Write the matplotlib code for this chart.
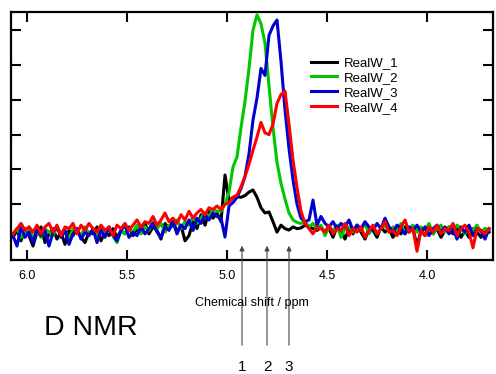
import numpy as np
import matplotlib
matplotlib.use("Agg")
import matplotlib.pyplot as plt

plt.rcParams['font.family'] = ['Liberation Sans', 'DejaVu Sans']

# chemical shift grid (ppm), 0.02 ppm steps from 6.07 down to 3.69
ppm = np.round(6.07 - 0.02 * np.arange(120), 2)

realw_1 = [0.05, 0.25, -0.05, 0.30, 0.10, -0.20, 0.20, 0.35, -0.10, 0.15,
           0.30, 0.00, 0.20, -0.15, 0.25, 0.10, 0.30, 0.05, -0.10, 0.20,
           0.15, 0.35, -0.05, 0.20, 0.10, 0.30, 0.05, 0.25, 0.15, 0.35,
           0.10, 0.30, 0.20, 0.45, 0.15, 0.35, 0.25, 0.00, 0.45, 0.30,
           0.55, 0.20, 0.40, -0.05, 0.10, 0.50, 0.30, 0.70, 0.40, 0.80,
           0.60, 0.75, 0.50, 1.84, 1.10, 1.20, 1.22, 1.20, 1.25, 1.35,
           1.41, 1.20, 0.90, 0.75, 0.78, 0.50, 0.20, 0.40, 0.30, 0.26,
           0.35, 0.30, 0.32, 0.40, 0.36, 0.30, 0.25, 0.35, 0.20, 0.30,
           0.05, 0.35, 0.25, 0.00, 0.30, 0.15, 0.40, 0.20, 0.00, 0.30,
           0.25, 0.05, 0.35, 0.20, 0.30, 0.05, 0.25, 0.15, 0.35, 0.20,
           0.30, -0.20, 0.25, 0.10, 0.35, 0.15, 0.30, 0.05, 0.25, 0.35,
           0.15, 0.30, 0.05, 0.25, 0.05, 0.30, 0.20, 0.05, 0.30, 0.20]

realw_2 = [0.15, 0.30, 0.05, 0.20, 0.35, 0.00, 0.25, 0.05, 0.30, 0.20,
           0.10, 0.35, 0.15, 0.25, -0.05, 0.30, 0.20, 0.10, 0.35, 0.15,
           0.25, 0.05, 0.30, 0.20, 0.35, 0.10, -0.10, 0.25, 0.15, 0.30,
           0.20, 0.40, 0.15, 0.35, 0.25, 0.50, 0.30, 0.45, 0.20, 0.40,
           0.35, 0.55, 0.30, 0.50, 0.40, 0.65, 0.45, 0.60, 0.75, 0.65,
           0.85, 0.80, 0.80, 1.00, 1.35, 2.07, 2.36, 3.20, 3.95, 4.90,
           6.00, 6.44, 6.18, 5.63, 4.40, 3.20, 2.20, 1.60, 1.15, 0.75,
           0.55, 0.48, 0.45, 0.50, 0.35, 0.45, 0.30, 0.40, 0.10, 0.35,
           0.25, 0.40, 0.05, 0.30, 0.35, 0.20, 0.40, 0.25, 0.45, 0.15,
           0.35, 0.15, 0.30, 0.40, 0.20, 0.35, 0.25, 0.45, 0.15, 0.30,
           0.40, 0.20, 0.35, 0.25, 0.45, 0.15, 0.30, 0.40, 0.20, 0.35,
           0.25, 0.40, 0.30, 0.15, 0.35, 0.25, 0.40, 0.20, 0.30, 0.25]

realw_3 = [0.10, -0.20, 0.35, 0.05, 0.20, -0.10, 0.30, 0.10, 0.25, -0.20,
           0.20, 0.35, 0.05, 0.25, -0.15, 0.15, 0.30, 0.00, 0.20, 0.10,
           0.30, -0.10, 0.25, 0.05, 0.35, 0.10, -0.05, 0.25, 0.40, 0.05,
           0.20, 0.10, 0.35, 0.15, 0.30, 0.45, 0.20, 0.05, 0.35, 0.25,
           0.50, 0.15, 0.40, 0.30, 0.55, 0.25, 0.60, 0.45, 0.70, 0.55,
           0.75, 0.65, 0.60, 0.06, 0.95, 1.05, 1.20, 1.45, 1.80, 2.45,
           3.42, 4.05, 4.90, 4.70, 5.85, 6.12, 6.29, 5.10, 3.71, 2.60,
           1.70, 1.00, 0.60, 0.50, 0.55, 1.12, 0.40, 0.65, 0.45, 0.35,
           0.50, 0.30, 0.45, 0.35, 0.55, 0.25, 0.40, 0.30, 0.50, 0.35,
           0.25, 0.45, 0.30, 0.60, 0.35, 0.20, 0.40, 0.30, 0.15, 0.35,
           0.25, 0.40, 0.20, 0.35, 0.10, 0.30, 0.40, 0.20, 0.35, 0.15,
           0.30, 0.00, 0.35, 0.20, 0.40, 0.10, 0.30, 0.25, 0.00, 0.30]

realw_4 = [0.15, 0.30, 0.45, 0.25, 0.35, 0.20, 0.40, 0.15, 0.35, 0.45,
           0.20, 0.40, 0.10, 0.35, 0.30, 0.45, 0.15, 0.40, 0.25, 0.45,
           0.30, 0.20, 0.40, 0.25, 0.35, 0.10, 0.40, 0.30, 0.45, 0.25,
           0.40, 0.55, 0.35, 0.50, 0.45, 0.65, 0.40, 0.55, 0.75, 0.50,
           0.60, 0.45, 0.70, 0.55, 0.80, 0.60, 0.75, 0.85, 0.70, 0.90,
           0.85, 0.95, 0.85, 1.00, 1.05, 1.20, 1.26, 1.50, 1.80, 2.15,
           2.55, 2.93, 3.35, 3.05, 3.00, 3.30, 3.90, 4.15, 4.25, 3.30,
           2.27, 1.49, 0.80, 0.45, 0.30, 0.15, 0.35, 0.30, 0.20, 0.40,
           0.15, 0.30, 0.25, 0.45, 0.10, 0.30, 0.20, 0.35, 0.05, 0.25,
           0.40, 0.15, 0.30, 0.50, 0.20, 0.25, 0.10, 0.35, 0.55, 0.20,
           0.30, -0.35, 0.25, 0.10, 0.35, 0.20, 0.40, 0.15, 0.30, 0.25,
           0.45, 0.10, 0.30, 0.40, 0.20, -0.25, 0.30, 0.25, 0.15, 0.30]

series = ['RealW_1', 'RealW_2', 'RealW_3', 'RealW_4']
colors = ['#000000', '#00c800', '#0000d0', '#ff0000']

# marked positions (ppm) and their labels
arrow_ppm = [4.925, 4.80, 4.69]
arrow_labels = ['1', '2', '3']

W, H = 496, 374
fig = plt.figure(figsize=(W / 100, H / 100), dpi=100)
ax = fig.add_axes([11 / W, 1 - 260 / H, 482 / W, 248 / H])

for name, y, c in zip(series, [realw_1, realw_2, realw_3, realw_4], colors):
    ax.plot(ppm, y, color=c, lw=2.2, label=name)

ax.set_xlim(6.08, 3.67)
ax.set_ylim(-0.6, 6.52)
ax.set_xticks([6.0, 5.5, 5.0, 4.5, 4.0])
ax.set_xticklabels(['6.0', '5.5', '5.0', '4.5', '4.0'], fontsize=9)
ax.set_yticks([1, 2, 3, 4, 5, 6])
ax.set_yticklabels([])
ax.tick_params(direction='in', length=7, width=1.5, top=True, right=True, pad=7)
for s in ax.spines.values():
    s.set_linewidth(1.6)

ax.legend(loc='upper left', bbox_to_anchor=(311 / W, 1 - 57 / H),
          bbox_transform=fig.transFigure, frameon=False, fontsize=9.5,
          handlelength=2.0, handletextpad=0.5, labelspacing=0.2,
          borderpad=0, borderaxespad=0)

fig.text(252 / W, 1 - 303 / H, 'Chemical shift / ppm', fontsize=9,
         ha='center', va='center')
fig.text(44 / W, 1 - 328 / H, 'D NMR', fontsize=20.5, ha='left', va='center')

for p, lab in zip(arrow_ppm, arrow_labels):
    ax.annotate('', xy=(p, H - 243), xycoords=('data', 'figure pixels'),
                xytext=(p, H - 348), textcoords=('data', 'figure pixels'),
                arrowprops=dict(arrowstyle='-|>', color='#444444', lw=0.8,
                                mutation_scale=7),
                annotation_clip=False)
    ax.annotate(lab, xy=(p, 7), xycoords=('data', 'figure pixels'),
                ha='center', va='center', fontsize=11, annotation_clip=False)

fig.savefig('out.png', dpi=100)
